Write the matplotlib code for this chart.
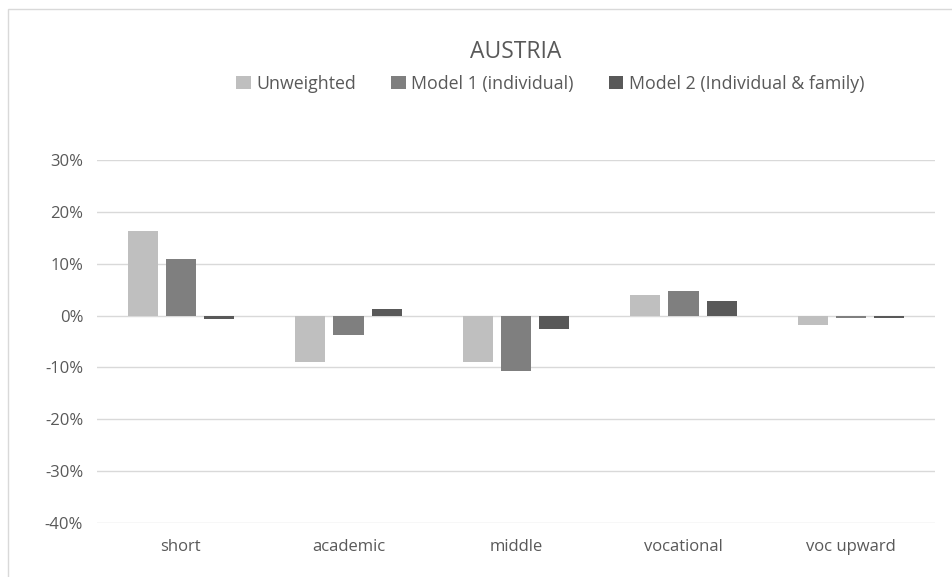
import numpy as np
import matplotlib.pyplot as plt
from matplotlib.patches import Rectangle
from matplotlib.ticker import PercentFormatter

categories = ["short", "academic", "middle", "vocational", "voc upward"]
unweighted = [16.3, -9.0, -9.0, 4.0, -1.7]
model1 = [10.9, -3.7, -10.6, 4.8, -0.5]
model2 = [-0.6, 1.3, -2.5, 2.9, -0.5]
series_names = ["Unweighted", "Model 1 (individual)", "Model 2 (Individual & family)"]
colors = ["#BFBFBF", "#7F7F7F", "#595959"]

plt.rcParams['font.family'] = ['Open Sans', 'DejaVu Sans']
plt.rcParams['axes.unicode_minus'] = False
txt = "#595959"

fig = plt.figure(figsize=(9.52, 5.77), dpi=100)
ax = fig.add_axes([0.102, 0.094, 0.880, 0.628])

# chart border
fig.patches.append(Rectangle((8 / 952, -0.1), 1.2, 1 - 9 / 577 + 0.1,
                             transform=fig.transFigure, fill=False,
                             edgecolor="#D9D9D9", linewidth=1))

x = np.arange(len(categories))
w = 0.18
step = 0.228
for i, (vals, name, c) in enumerate(zip([unweighted, model1, model2], series_names, colors)):
    ax.bar(x + (i - 1) * step, vals, width=w, color=c, label=name, zorder=3)

ax.set_xlim(-0.5, len(categories) - 0.5)
ax.set_ylim(-40, 30)
ax.set_yticks(np.arange(-40, 31, 10))
ax.yaxis.set_major_formatter(PercentFormatter(decimals=0))
ax.set_xticks(x)
ax.set_xticklabels(categories)
ax.grid(axis="y", color="#D9D9D9", linewidth=1, zorder=0)
for s in ax.spines.values():
    s.set_visible(False)
ax.tick_params(axis="both", length=0, labelsize=12, colors=txt, pad=10)
ax.tick_params(axis="x", pad=12)

fig.text(0.542, 0.91, "AUSTRIA", ha="center", va="center", fontsize=16.5, color=txt)
fig.legend(loc="center", bbox_to_anchor=(0.578, 0.855), ncol=3, frameon=False,
           fontsize=12.8, labelcolor=txt, handlelength=0.8, handleheight=0.8,
           handletextpad=0.3, columnspacing=2.0)

fig.savefig("out.png", dpi=100)
